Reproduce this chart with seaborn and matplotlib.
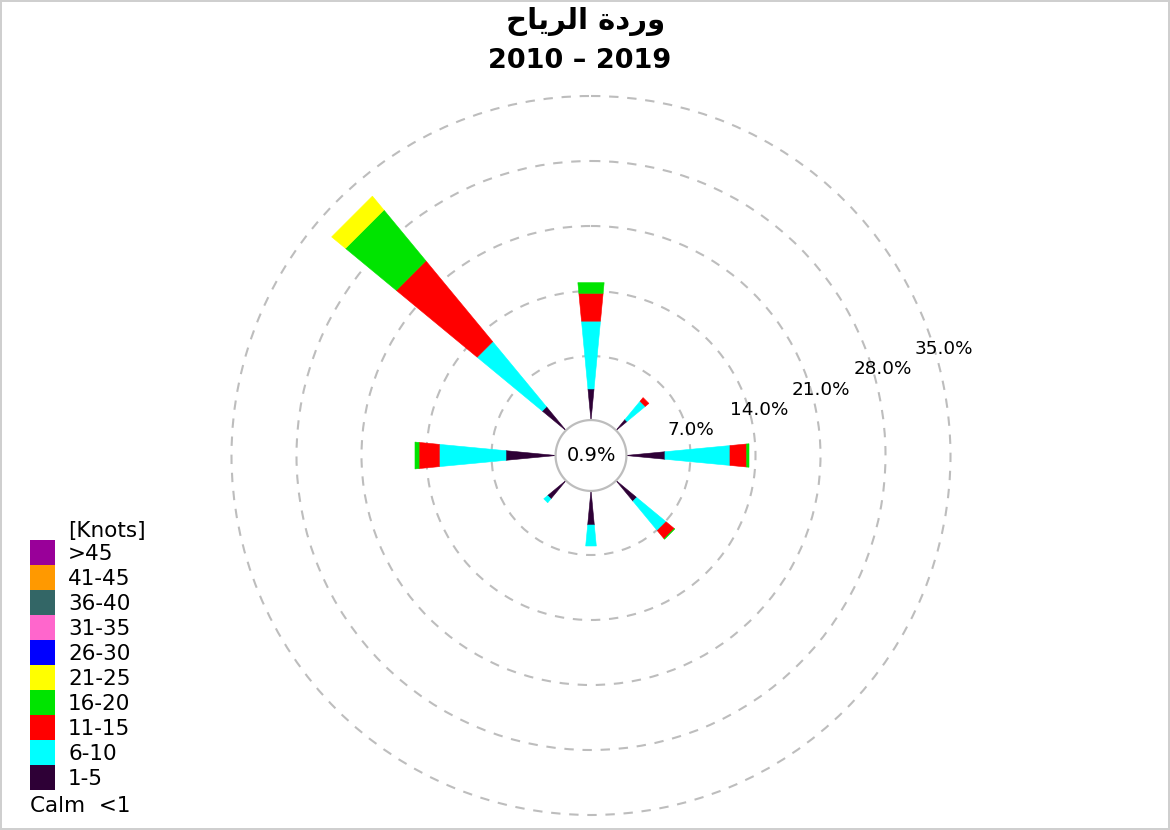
import numpy as np
import matplotlib
matplotlib.use("Agg")
import matplotlib.pyplot as plt
from matplotlib.patches import Patch
import seaborn as sns

# ---------------- data ----------------
directions = ["N", "NE", "E", "SE", "S", "SW", "W", "NW"]
direction_deg = [0, 45, 90, 135, 180, 225, 270, 315]
speed_bins = ["1-5", "6-10", "11-15", "16-20", "21-25", "26-30", "31-35", "36-40", "41-45", ">45"]
s_1_5   = [3.45, 1.62, 4.25, 2.96, 3.77, 2.64, 5.44, 3.39]
s_6_10  = [7.30, 2.53, 7.00, 4.09, 2.26, 0.54, 7.18, 9.05]
s_11_15 = [3.00, 0.51, 1.80, 1.15, 0.00, 0.00, 2.18, 11.25]
s_16_20 = [1.15, 0.00, 0.25, 0.06, 0.00, 0.00, 0.44, 7.06]
s_21_25 = [0.00, 0.00, 0.00, 0.00, 0.00, 0.00, 0.00, 1.93]
s_26_30 = [0.0] * 8
s_31_35 = [0.0] * 8
s_36_40 = [0.0] * 8
s_41_45 = [0.0] * 8
s_gt_45 = [0.0] * 8
calm_pct = 0.9
ring_values = [7, 14, 21, 28, 35]
ring_labels = ["7.0%", "14.0%", "21.0%", "28.0%", "35.0%"]
title_ar = "\ufea1\ufe8e\ufef3\ufeae\ufedf\ufe8d \ufe93\ufea9\ufead\ufeed"  # وردة الرياح (visual order)
title_years = "2010 \u2013 2019"

bin_colors = ["#2e0036", "#00ffff", "#ff0000", "#00e400", "#ffff00",
              "#0000ff", "#ff66cc", "#336666", "#ff9900", "#990099"]

# ---------------- style ----------------
sns.set_theme(style="white")
plt.rcParams["font.family"] = ["DejaVu Sans"]
plt.rcParams["text.color"] = "black"
palette = sns.color_palette(bin_colors)

fig = plt.figure(figsize=(11.7, 8.3), dpi=100)
fig.patch.set_facecolor("white")
fig.patch.set_edgecolor("#cfcfcf")
fig.patch.set_linewidth(1.5)

r0 = 3.715     # radial offset (calm circle)
rmax = 38.0
cx, cy, px_per = 591.0, 455.5, 9.286
half = (rmax + r0) * px_per
W, H = 1170.0, 830.0
ax = fig.add_axes([(cx - half) / W, (H - cy - half) / H, 2 * half / W, 2 * half / H],
                  projection="polar")
ax.set_theta_zero_location("N")
ax.set_theta_direction(-1)
ax.set_ylim(-r0, rmax)
ax.set_facecolor("none")
for sp in ax.spines.values():
    sp.set_visible(False)
ax.set_xticks([])
ax.set_yticks(ring_values)
ax.set_yticklabels([])
ax.xaxis.grid(False)
ax.yaxis.grid(True, color="#bdbdbd", linestyle=(0, (4.5, 4.2)), linewidth=1.5)

# ---------------- wedges ----------------
series = [s_1_5, s_6_10, s_11_15, s_16_20, s_21_25, s_26_30, s_31_35, s_36_40, s_41_45, s_gt_45]
k = 0.19  # wedge width per unit radius


def wedge_pt(theta_c, r, side):
    h = k * r / 2.0
    R = r + r0
    d = np.arctan2(h, R)
    return theta_c + side * d, np.hypot(R, h) - r0


for j, deg in enumerate(direction_deg):
    th = np.deg2rad(deg)
    base = 0.0
    for i, vals in enumerate(series):
        v = vals[j]
        if v <= 0:
            continue
        a, b = base, base + v
        pts = [wedge_pt(th, a, -1), wedge_pt(th, b, -1), wedge_pt(th, b, 1), wedge_pt(th, a, 1)]
        ax.fill([p[0] for p in pts], [p[1] for p in pts], color=palette[i],
                edgecolor=palette[i], linewidth=0.4, zorder=3)
        base = b

# calm circle
tt = np.linspace(0, 2 * np.pi, 240)
ax.fill(tt, np.full_like(tt, 0.1), facecolor="white", edgecolor="#bdbdbd",
        linewidth=1.6, zorder=4)
ax.text(0.5, 0.5, f"{calm_pct}%", transform=ax.transAxes, ha="center", va="center",
        fontsize=14, color="black", zorder=5)

# ring labels
lab_theta = np.deg2rad(90 - 18.2)
for v, lab in zip(ring_values, ring_labels):
    ax.text(lab_theta, v - 2.0, lab, ha="left", va="center", fontsize=13.2,
            color="black", zorder=5)

# ---------------- titles ----------------
fig.text(586 / W, 1 - 21 / H, title_ar, ha="center", va="center", fontsize=21,
         fontweight="bold", color="black", family=["DejaVu Sans"])
fig.text(580 / W, 1 - 61 / H, title_years, ha="center", va="center", fontsize=19.5,
         fontweight="bold", color="black")

# ---------------- legend ----------------
fs_leg = 15.5
box_pt = 25 * 72 / 100.0
hh = (box_pt / fs_leg - 0.245) / 0.65
handles = [Patch(facecolor=palette[i], edgecolor="none", label=speed_bins[i])
           for i in range(len(speed_bins) - 1, -1, -1)]
leg = fig.legend(handles=handles, loc="upper left",
                 bbox_to_anchor=(30 / W, 1 - 540 / H), bbox_transform=fig.transFigure,
                 frameon=False, fontsize=fs_leg, labelspacing=0.0,
                 handlelength=box_pt / fs_leg, handleheight=hh,
                 handletextpad=9.4 / fs_leg, borderpad=0.0, borderaxespad=0.0,
                 labelcolor="black")
fig.text(68 / W, 1 - 531 / H, "[Knots]", ha="left", va="center", fontsize=fs_leg, color="black")
fig.text(30 / W, 1 - 806 / H, "Calm  <1", ha="left", va="center", fontsize=fs_leg, color="black")

fig.savefig("out.png", dpi=100, facecolor=fig.get_facecolor(), edgecolor=fig.get_edgecolor())
